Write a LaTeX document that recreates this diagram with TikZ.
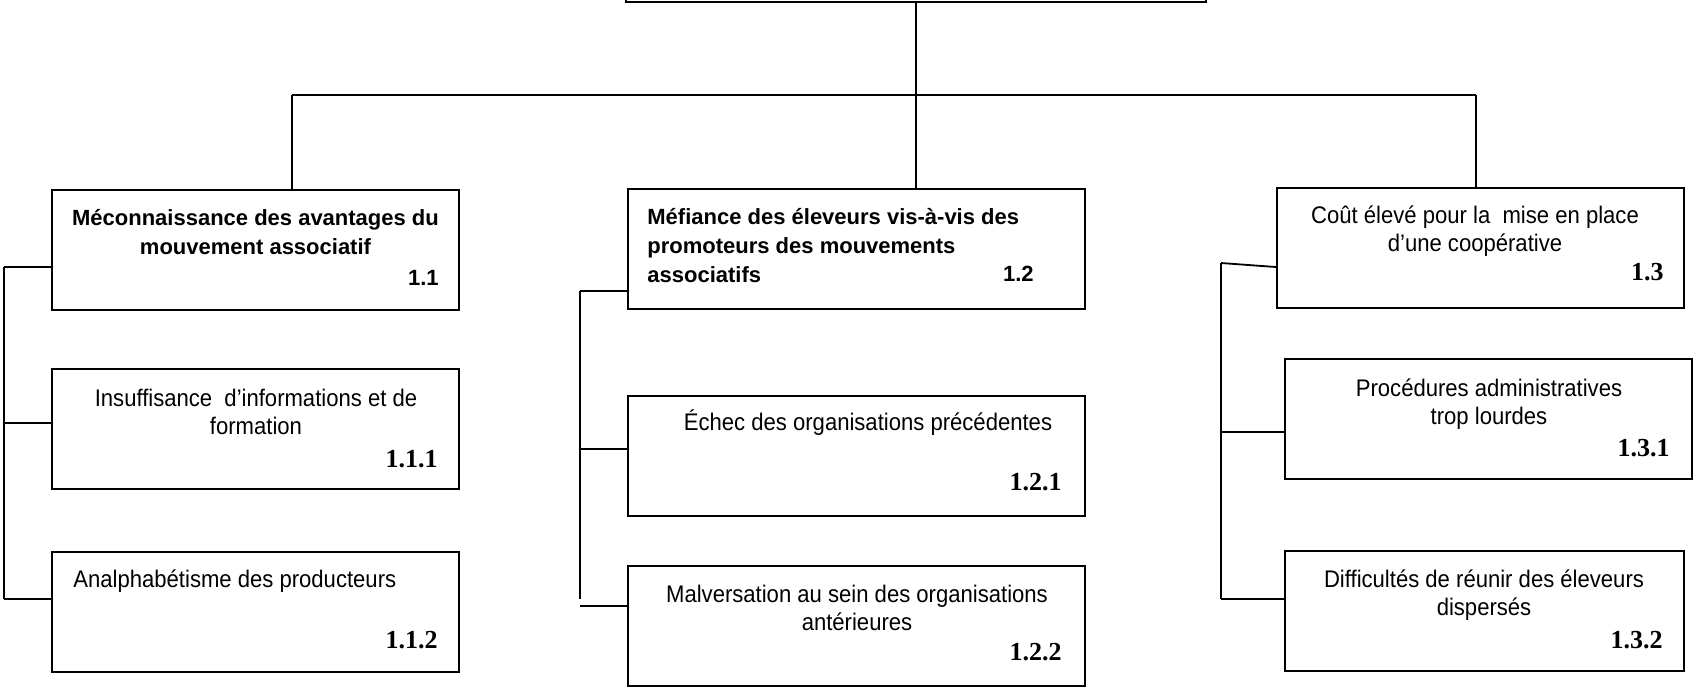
\documentclass[tikz,border=0pt]{standalone}
\usepackage{fontspec}
\setmainfont{Liberation Sans}
\newfontfamily\narrowsans[FakeStretch=0.92]{Liberation Sans}
\newfontfamily\numserif{Liberation Serif}
\usetikzlibrary{positioning}

\begin{document}
\begin{tikzpicture}[x=0.5pt, y=-0.5pt]
      \tikzstyle{box} = [rectangle, draw=black, line width=1.2pt, minimum width=203.5pt, minimum height=60pt, inner sep=0pt]
      \tikzstyle{wideBox} = [box, minimum width=228.5pt]
      \tikzstyle{link} = [draw=black, line width=0.9pt]
      \tikzstyle{boldText} = [inner sep=0pt, font=\bfseries\fontsize{11}{14.5}\selectfont]
      \tikzstyle{plainText} = [inner sep=0pt, align=center, font=\narrowsans\fontsize{12}{14}\selectfont]
      \tikzstyle{numSans} = [inner sep=0pt, anchor=base east, font=\bfseries\fontsize{11}{13}\selectfont]
      \tikzstyle{numSerif} = [inner sep=0pt, anchor=base east, font=\numserif\bfseries\fontsize{13}{15}\selectfont]

      \useasboundingbox (0,0) rectangle (1693,687);

      % Boites
      \node [box, minimum width=290pt, minimum height=32pt] (root) at (916,-30) {};
      \node [box] (b1) at (255.5,250) {};
      \node [box] (b11) at (255.5,429) {};
      \node [box] (b12) at (255.5,612) {};
      \node [wideBox] (b2) at (856.5,249) {};
      \node [wideBox] (b21) at (856.5,456) {};
      \node [wideBox] (b22) at (856.5,626) {};
      \node [box] (b3) at (1480.5,248) {};
      \node [box] (b31) at (1488.5,419) {};
      \node [box, minimum width=199.5pt] (b32) at (1484.5,611) {};

      % Textes (base = derniere ligne)
      \node [boldText, align=center, anchor=base] (t1) at (255.5,254) {Méconnaissance des avantages du\\mouvement associatif};
      \node [numSans] (n1) at (439,285) {1.1};
      \node [plainText, anchor=base] (t11) at (256,434) {Insuffisance\ \ d’informations et de\\formation};
      \node [numSerif] (n11) at (438,467) {1.1.1};
      \node [plainText, anchor=base west] (t12) at (73,587) {Analphabétisme des producteurs};
      \node [numSerif] (n12) at (438,648) {1.1.2};

      \node [boldText, align=left, anchor=base west] (t2) at (647,282) {Méfiance des éleveurs vis-à-vis des\\promoteurs des mouvements\\associatifs};
      \node [numSans] (n2) at (1034,281) {1.2};
      \node [plainText, anchor=base] (t21) at (868,430) {Échec des organisations précédentes};
      \node [numSerif] (n21) at (1062,490) {1.2.1};
      \node [plainText, anchor=base] (t22) at (857,630) {Malversation au sein des organisations\\antérieures};
      \node [numSerif] (n22) at (1062,660) {1.2.2};

      \node [plainText, anchor=base] (t3) at (1475,251) {Coût élevé pour la\ \ mise en place\\d’une coopérative};
      \node [numSerif] (n3) at (1664,280) {1.3};
      \node [plainText, anchor=base] (t31) at (1489,424) {Procédures administratives\\trop lourdes};
      \node [numSerif] (n31) at (1670,456) {1.3.1};
      \node [plainText, anchor=base] (t32) at (1484,615) {Difficultés de réunir des éleveurs\\dispersés};
      \node [numSerif] (n32) at (1663,648) {1.3.2};

      % Points de raccord
      \coordinate (hub) at (916,95);
      \coordinate (d1) at (292,95);
      \coordinate (d3) at (1476,95);
      \coordinate (k1a) at (4,267);
      \coordinate (k1b) at (4,423);
      \coordinate (k1c) at (4,599);
      \coordinate (k2a) at (580,291);
      \coordinate (k2b) at (580,449);
      \coordinate (k2c) at (580,599);
      \coordinate (k2d) at (580,606);
      \coordinate (k3a) at (1221,263);
      \coordinate (k3b) at (1221,432);
      \coordinate (k3c) at (1221,599);

      \draw [link] (root.south) -- (hub);
      \draw [link] (d1) -- (d3);
      \draw [link] (d1) -- (d1 |- b1.north);
      \draw [link] (hub) -- (hub |- b2.north);
      \draw [link] (d3) -- (d3 |- b3.north);

      \draw [link] (k1a) -- (k1c);
      \draw [link] (k1a) -- (k1a -| b1.west);
      \draw [link] (k1b) -- (k1b -| b11.west);
      \draw [link] (k1c) -- (k1c -| b12.west);

      \draw [link] (k2a) -- (k2c);
      \draw [link] (k2a) -- (k2a -| b2.west);
      \draw [link] (k2b) -- (k2b -| b21.west);
      \draw [link] (k2d) -- (k2d -| b22.west);

      \draw [link] (k3a) -- (k3c);
      \draw [link] (k3a) -- ([yshift=-9.5pt]b3.west);
      \draw [link] (k3b) -- (k3b -| b31.west);
      \draw [link] (k3c) -- (k3c -| b32.west);

    \end{tikzpicture}
\end{document}
